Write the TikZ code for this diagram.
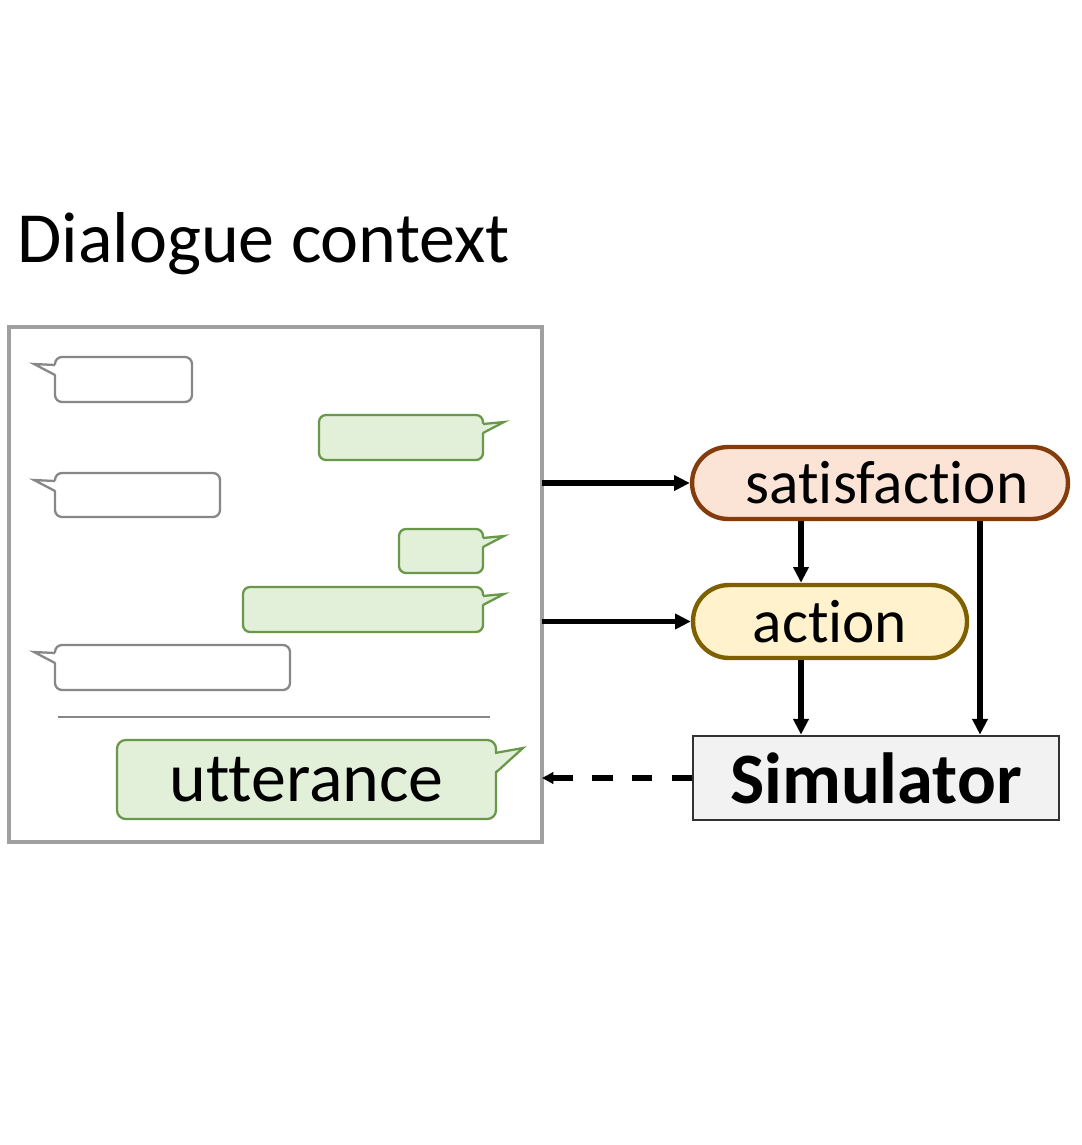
\documentclass[tikz,border=0pt]{standalone}
\usepackage{fontspec}
\setmainfont{Carlito}[Ligatures=NoCommon]
\usetikzlibrary{arrows.meta, calc}
\definecolor{bubblefill}{RGB}{226,240,217}
\definecolor{bubbleline}{RGB}{106,152,74}
\definecolor{bubblegray}{RGB}{135,135,135}
\definecolor{ctxgray}{RGB}{160,160,160}
\definecolor{satfill}{RGB}{251,227,214}
\definecolor{satline}{RGB}{132,60,12}
\definecolor{actfill}{RGB}{255,242,204}
\definecolor{actline}{RGB}{127,96,0}
\definecolor{simfill}{RGB}{242,242,242}
\definecolor{simline}{RGB}{50,50,50}

\begin{document}
\begin{tikzpicture}[x=0.02cm, y=-0.02cm, >={Triangle[length=9pt,width=8.5pt]},
    pill/.style={rounded corners=0.72cm, line width=2.5pt, inner sep=0pt,
        font=\fontsize{34.9}{40}\selectfont},
    arr/.style={->, line width=2.9pt},
    dasharr/.style={-{Triangle[length=6.5pt,width=6.5pt]}, line width=2.9pt,
        dash pattern=on 11.5pt off 11pt},
    wbubble/.style={draw=bubblegray, fill=white, line width=1.3pt, rounded corners=4pt},
    gbubble/.style={draw=bubbleline, fill=bubblefill, line width=1.3pt, rounded corners=4pt}]

\useasboundingbox (0,0) rectangle (1081,1145);

% =============================================================================
% TITRE ET CADRE DU CONTEXTE
% =============================================================================
\node[anchor=base west, inner sep=0pt, font=\fontsize{41}{48}\selectfont] (title) at (17,263) {Dialogue context};

\draw[ctxgray, line width=1.8pt] (9,327) rectangle (542,842);
\coordinate (ctxE) at (542,584);

% =============================================================================
% BULLES (queue a gauche, grises)
% =============================================================================
\foreach \ya/\yb/\xb in {357/402/192, 473/517/220, 645/690/290} {
    \draw[wbubble] (55,\ya) rectangle (\xb,\yb);
    \fill[white] (56.8,\ya+8) -- (34,\ya+7) -- (56.8,\ya+18) -- cycle;
    \draw[bubblegray, line width=1.3pt] (55,\ya+8) -- (34,\ya+7) -- (55,\ya+18);
}

% =============================================================================
% BULLES (queue a droite, vertes)
% =============================================================================
\foreach \ya/\yb/\xa in {415/460/319, 529/573/399, 587/632/243} {
    \draw[gbubble] (\xa,\ya) rectangle (483,\yb);
    \fill[bubblefill] (481.2,\ya+9) -- (504,\ya+7) -- (481.2,\ya+18) -- cycle;
    \draw[bubbleline, line width=1.3pt] (483,\ya+9) -- (504,\ya+7) -- (483,\ya+18);
}

% separateur
\draw[bubblegray, line width=1.2pt] (58,717) -- (490,717);

% bulle de l'enonce
\draw[gbubble, rounded corners=5pt] (117,740) rectangle (496,819);
\fill[bubblefill] (493.2,753) -- (523,748) -- (494.2,772) -- cycle;
\draw[bubbleline, line width=1.3pt] (495,753) -- (523,748) -- (496.5,772);
\node[inner sep=0pt, font=\fontsize{39.8}{46}\selectfont] (utt) at (306.5,779.5) {utterance};

% =============================================================================
% SATISFACTION, ACTION, SIMULATEUR
% =============================================================================
\node[pill, draw=satline, fill=satfill, minimum width=7.52cm, minimum height=1.44cm] (sat) at (880,483) {\hspace*{8pt}satisfaction};
\node[pill, draw=actline, fill=actfill, minimum width=5.48cm, minimum height=1.46cm] (act) at (830,621.5) {action};
\node[draw=simline, fill=simfill, line width=1.5pt, inner sep=0pt, minimum width=7.32cm, minimum height=1.68cm,
    font=\fontsize{41.2}{48}\selectfont\bfseries] (sim) at (876,778) {Simulator};

% =============================================================================
% FLECHES
% =============================================================================
\coordinate (colA) at (801,0);
\coordinate (colB) at (980,0);

\draw[arr] (ctxE |- sat.west) -- (sat.west);
\draw[arr] (ctxE |- act.west) -- (act.west);
\draw[arr] (sat.south -| colA) -- (act.north -| colA);
\draw[arr] (act.south -| colA) -- (sim.north -| colA);
\draw[arr] (sat.south -| colB) -- (sim.north -| colB);
\draw[dasharr] (sim.west) -- (sim.west -| ctxE);

\end{tikzpicture}
\end{document}
